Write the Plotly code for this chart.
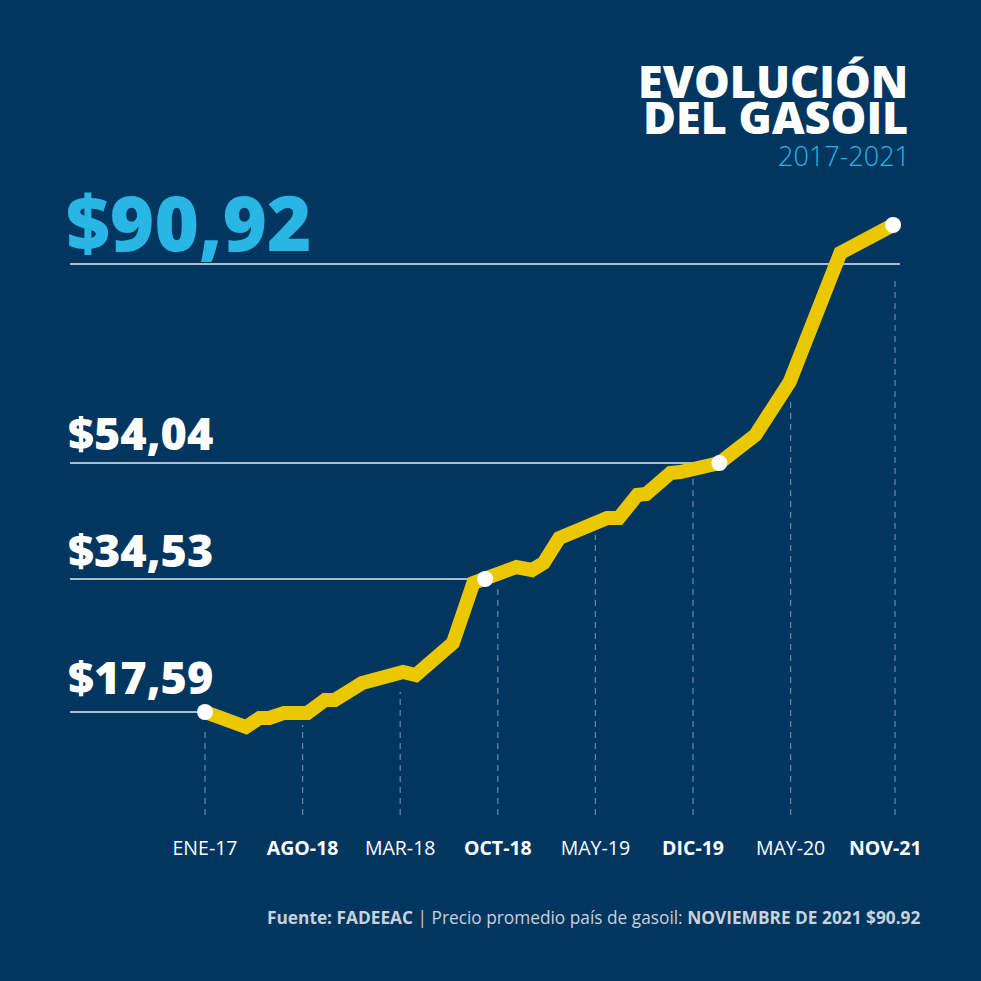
import plotly.graph_objects as go

# ---- data (x in tick-index units, y in drawn price units) ----
tick_labels = ["ENE-17", "<b>AGO-18</b>", "MAR-18", "<b>OCT-18</b>", "MAY-19", "<b>DIC-19</b>", "MAY-20", "<b>NOV-21</b>"]
tick_pos = [0, 1, 2, 3, 4, 5, 6, 7.07]
tick_label_pos = [0, 1, 2, 3, 4, 5, 6, 6.97]

series_x = [0, 0.42, 0.56, 0.66, 0.81, 1.05, 1.23, 1.33, 1.61, 1.81, 1.92, 2.03, 2.16, 2.35, 2.54,
            2.75, 2.87, 3.19, 3.35, 3.47, 3.63, 3.88, 4.12, 4.24, 4.43, 4.52, 4.77, 4.87, 5.27,
            5.64, 5.99, 6.51, 7.05]
series_y = [17.44, 15.18, 16.54, 16.54, 17.29, 17.29, 19.25, 19.25, 21.81, 22.56, 22.56, 23.46, 23.01,
            25.27, 27.83, 36.87, 37.47, 39.27, 38.82, 39.88, 43.64, 45.30, 46.65, 46.65, 50.12, 50.27,
            53.43, 53.58, 54.93, 59.15, 67.13, 86.55, 90.77]

marked_x = [0, 2.87, 5.27, 7.05]
marked_y = [17.44, 37.47, 54.93, 90.77]
marked_labels = ["$17,59", "$34,53", "$54,04", "$90,92"]

ref_line_y = [17.44, 37.47, 54.93, 84.90]
ref_line_end = [0, 2.87, 5.27, 7.12]

dash_top = [15.18, 15.48, 20.45, 36.41, 44.09, 53.13, 64.72, 82.79]
dash_bottom = 1.93

BG = "#00365F"
YELLOW = "#EBC700"
LBLUE = "#29B6E4"
FONT = "Open Sans"

fig = go.Figure()

shapes = []
for xp, yt in zip(tick_pos, dash_top):
    shapes.append(dict(type="line", xref="x", yref="y", x0=xp, x1=xp, y0=dash_bottom, y1=yt,
                       line=dict(color="#6C88A6", width=1.2, dash="6px,5px"), layer="below"))
for yl, xe in zip(ref_line_y, ref_line_end):
    shapes.append(dict(type="line", xref="x", yref="y", x0=-1.383, x1=xe, y0=yl, y1=yl,
                       line=dict(color="#E8EBEF", width=1.6), layer="below"))

fig.add_trace(go.Scatter(x=series_x, y=series_y, mode="lines",
                         line=dict(color=YELLOW, width=14), hoverinfo="skip"))
fig.add_trace(go.Scatter(x=marked_x, y=marked_y, mode="markers",
                         marker=dict(color="white", size=16, line=dict(width=0)), hoverinfo="skip"))

ann = []
label_centers = [676, 549, 432]
for lab, yc in zip(marked_labels[:3], label_centers):
    ann.append(dict(text=lab, xref="paper", yref="paper", x=66/981, y=1-yc/981,
                    xanchor="left", yanchor="middle", showarrow=False,
                    font=dict(family=FONT, size=45, color="white", weight=800)))
ann.append(dict(text=marked_labels[3], xref="paper", yref="paper", x=64/981, y=1-221/981,
                xanchor="left", yanchor="middle", showarrow=False,
                font=dict(family=FONT, size=76, color=LBLUE, weight=800)))
ann.append(dict(text="EVOLUCIÓN", xref="paper", yref="paper", x=910/981, y=1-81/981,
                xanchor="right", yanchor="middle", showarrow=False,
                font=dict(family=FONT, size=45, color="white", weight=800)))
ann.append(dict(text="DEL GASOIL", xref="paper", yref="paper", x=910/981, y=1-116/981,
                xanchor="right", yanchor="middle", showarrow=False,
                font=dict(family=FONT, size=45, color="white", weight=800)))
ann.append(dict(text="2017-2021", xref="paper", yref="paper", x=912/981, y=1-155/981,
                xanchor="right", yanchor="middle", showarrow=False,
                font=dict(family=FONT, size=27, color=LBLUE, weight=300)))
ann.append(dict(text="<b>Fuente: FADEEAC</b> | Precio promedio país de gasoil: <b>NOVIEMBRE DE 2021 $90.92</b>",
                xref="paper", yref="paper", x=922/981, y=1-917/981,
                xanchor="right", yanchor="middle", showarrow=False,
                font=dict(family=FONT, size=17.3, color="#C9D1DB")))

fig.update_layout(
    width=981, height=981,
    margin=dict(l=0, r=0, t=0, b=0),
    paper_bgcolor=BG, plot_bgcolor=BG,
    showlegend=False,
    shapes=shapes, annotations=ann,
    xaxis=dict(range=[-2.1004, 7.9508], domain=[0, 1], showgrid=False, zeroline=False,
               showline=False, tickvals=tick_label_pos, ticktext=tick_labels,
               tickfont=dict(family=FONT, size=19.5, color="white"), ticks="",
               ticklabelstandoff=4, fixedrange=True),
    yaxis=dict(range=[-0.33, 124.65], domain=[151/981, 1], showgrid=False, zeroline=False,
               showline=False, showticklabels=False, fixedrange=True),
)

fig.write_html("out.html", config={"displayModeBar": False},
               post_script="document.body.style.margin='0';document.body.style.overflow='hidden';")
